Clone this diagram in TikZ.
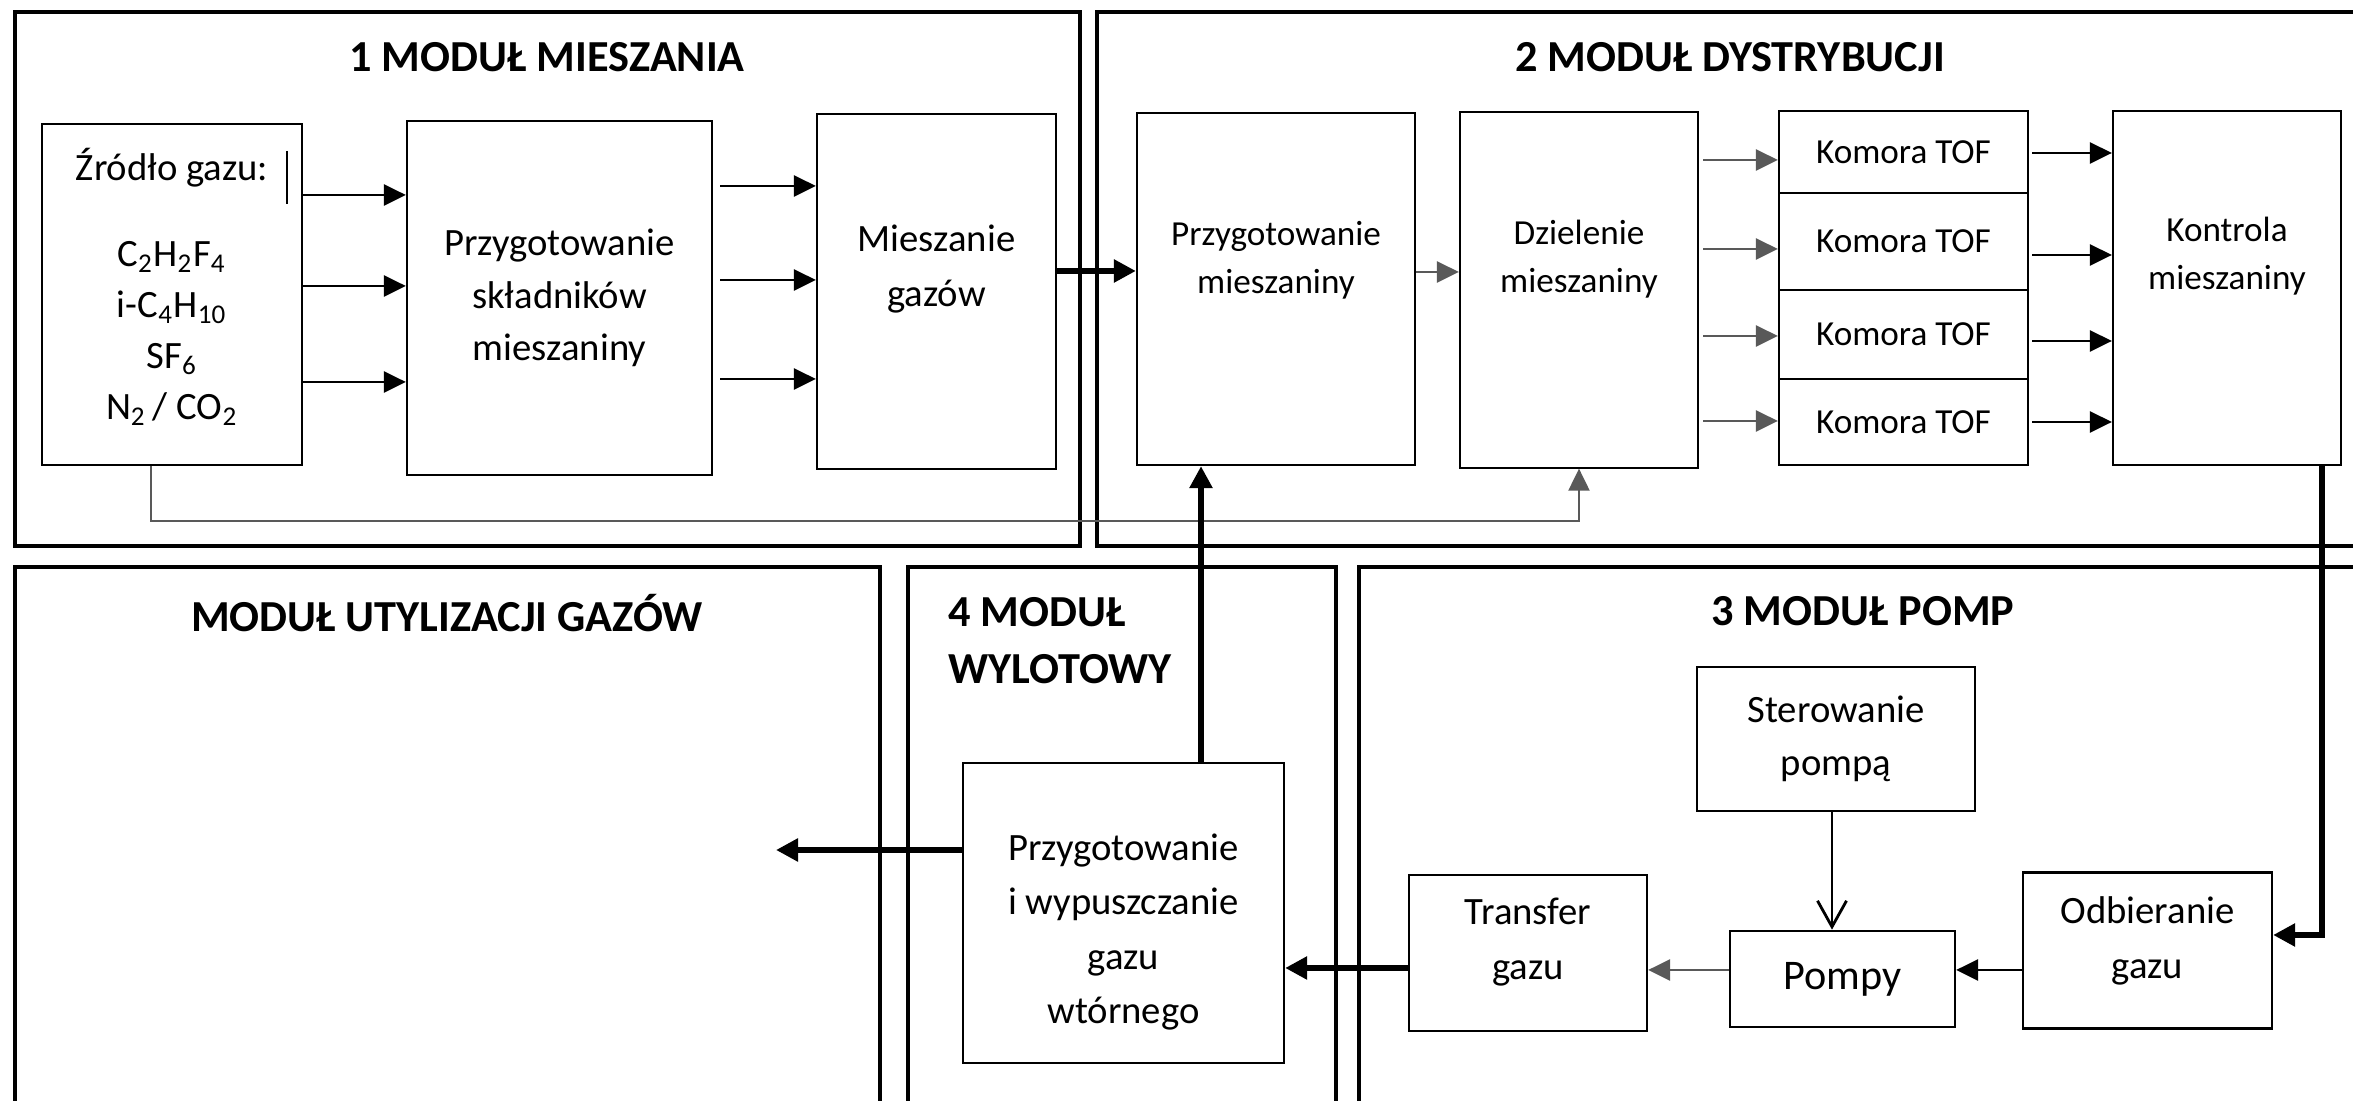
\documentclass[tikz,border=0pt]{standalone}
\usepackage{fontspec}
\setmainfont{Carlito}
\usetikzlibrary{arrows.meta, positioning, calc}

\begin{document}
\begin{tikzpicture}[
  x=0.01cm, y=-0.01cm,
  frame/.style={draw, line width=1.1pt},
  title/.style={font=\fontsize{12.6}{16.2}\selectfont\bfseries, align=center},
  box/.style={draw, line width=0.6pt, align=center, inner sep=0pt,
    font=\fontsize{11}{15}\selectfont},
  sbox/.style={box, font=\fontsize{10}{13.7}\selectfont},
  txt/.style={align=center, inner sep=0pt, font=\fontsize{11}{15.5}\selectfont},
  stxt/.style={align=center, inner sep=0pt, font=\fontsize{10}{13.7}\selectfont},
  arr/.style={-{Triangle[length=2.2mm, width=2.1mm]}, line width=0.8pt},
  garr/.style={arr, draw=black!65},
  tarr/.style={-{Triangle[length=2.2mm, width=2.2mm]}, line width=1.7pt},
  oarr/.style={-{Straight Barb[length=2.6mm, width=2.9mm]}, line width=0.8pt}
]
  \useasboundingbox (0,0) rectangle (2353,1101);
  \clip (0,0) rectangle (2353,1101);

  % module frames
  \draw[frame] (15,12) rectangle (1080,546);
  \draw[frame] (1097,12) rectangle (2380,546);
  \draw[frame] (15,567) rectangle (880,1130);
  \draw[frame] (908,567) rectangle (1336,1130);
  \draw[frame] (1359,567) rectangle (2380,1130);

  \node[title] (t1) at (547,57) {1 MODUŁ MIESZANIA};
  \node[title] (t2) at (1730,57) {2 MODUŁ DYSTRYBUCJI};
  \node[title] (t5) at (447,613) {MODUŁ UTYLIZACJI GAZÓW};
  \node[title, align=left, anchor=west] (t4) at (936,641) {4 MODUŁ\\WYLOTOWY};
  \node[title] (t3) at (1863,611) {3 MODUŁ POMP};

  % 1 MODUL MIESZANIA
  \node[box, minimum width=2.6cm, minimum height=3.41cm] (src) at (172,294.5) {};
  \node[align=center, inner sep=0pt, font=\fontsize{11}{14.5}\selectfont] (srct) at (172,287)
    {Źródło gazu:\\[10pt]
     C\textsubscript{2}H\textsubscript{2}F\textsubscript{4}\\
     i-C\textsubscript{4}H\textsubscript{10}\\
     SF\textsubscript{6}\\
     N\textsubscript{2}\,/ CO\textsubscript{2}};
  \draw[line width=0.5pt] (src.north east) ++(-16,28) -- ++(0,53);
  \node[box, minimum width=3.05cm, minimum height=3.54cm] (prepA) at (559.5,298)
    {Przygotowanie\\składników\\mieszaniny};
  \node[box, minimum width=2.39cm, minimum height=3.55cm] (mixA) at (936.5,291.5) {};
  \node[txt] (mixAt) at (936.5,269) {Mieszanie\\gazów};

  \foreach \y in {195, 286, 382}
    \draw[arr] (src.east |- 0,\y) -- (prepA.west |- 0,\y);
  \foreach \y in {186, 280, 379}
    \draw[arr, shorten <=0.7mm] (prepA.east |- 0,\y) -- (mixA.west |- 0,\y);

  % 2 MODUL DYSTRYBUCJI
  \node[box, minimum width=2.78cm, minimum height=3.52cm] (prepB) at (1276,289) {};
  \node[stxt] (prepBt) at (1276,260) {Przygotowanie\\mieszaniny};
  \node[box, minimum width=2.38cm, minimum height=3.55cm] (div) at (1579,290) {};
  \node[stxt] (divt) at (1579,259) {Dzielenie\\mieszaniny};
  \foreach \i/\yc/\h in {1/152/0.82, 2/241.5/0.97, 3/334.5/0.89, 4/422/0.86}
    \node[sbox, minimum width=2.49cm, minimum height=\h cm] (tof\i) at (1903.5,\yc) {Komora TOF};
  \node[box, minimum width=2.28cm, minimum height=3.54cm] (ctrl) at (2227,288) {};
  \node[stxt] (ctrlt) at (2227,256) {Kontrola\\mieszaniny};

  \draw[tarr] (mixA.east |- 0,271) -- (prepB.west |- 0,271);
  \draw[garr] (prepB.east |- 0,272) -- (div.west |- 0,272);
  \foreach \i/\ya/\yb in {1/160/153, 2/249/255, 3/336/341, 4/421/422}{
    \draw[garr, shorten <=0.4mm] (div.east |- 0,\ya) -- (tof\i.west |- 0,\ya);
    \draw[arr, shorten <=0.3mm] (tof\i.east |- 0,\yb) -- (ctrl.west |- 0,\yb);
  }
  \draw[garr, line width=0.6pt] (src.south -| 151,0) |- (div.south |- 0,521) -- (div.south);

  % 4 MODUL WYLOTOWY
  \node[box, minimum width=3.21cm, minimum height=3.0cm] (rel) at (1123.5,913) {};
  \node[txt] (relt) at (1123.5,932) {Przygotowanie\\i wypuszczanie\\gazu\\wtórnego};
  \coordinate (util) at (776,850);
  \draw[tarr] (rel.west |- util) -- (util);
  \draw[tarr] (rel.north -| 1201,0) -- (prepB.south -| 1201,0);

  % 3 MODUL POMP
  \node[box, minimum width=2.78cm, minimum height=1.44cm] (ster) at (1836,739) {Sterowanie\\pompą};
  \node[box, minimum width=2.25cm, minimum height=0.965cm,
    font=\fontsize{12}{15}\selectfont] (pump) at (1842.5,979) {Pompy};
  \node[box, minimum width=2.49cm, minimum height=1.56cm] (recv) at (2147.5,950.5) {};
  \node[txt] (recvt) at (2147.5,941) {Odbieranie\\gazu};
  \node[box, minimum width=2.38cm, minimum height=1.56cm] (trans) at (1528,953) {};
  \node[txt] (transt) at (1528,942) {Transfer\\gazu};

  \draw[oarr] (ster.south -| 1832,0) -- (pump.north -| 1832,0);
  \draw[arr] (recv.west |- 0,970) -- (pump.east |- 0,970);
  \draw[garr] (pump.west |- 0,970) -- (trans.east |- 0,970);
  \draw[tarr] (trans.west |- 0,968) -- (rel.east |- 0,968);
  \draw[tarr] (ctrl.south -| 2322,0) |- (recv.east |- 0,935);
\end{tikzpicture}
\end{document}
